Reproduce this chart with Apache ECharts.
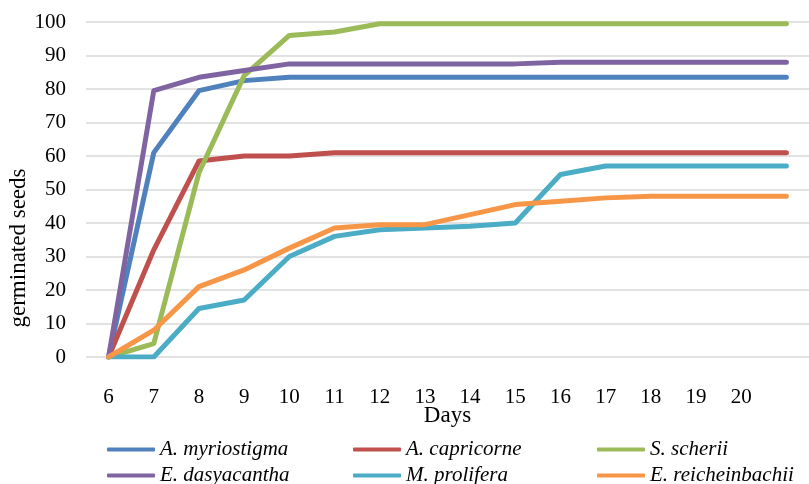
<!DOCTYPE html>
<html>
<head>
<meta charset="utf-8">
<script src="https://cdn.jsdelivr.net/npm/echarts@6/dist/echarts.min.js"></script>
<style>
  html, body { margin: 0; padding: 0; background: #fff; }
  #chart { width: 809px; height: 484px; }
</style>
</head>
<body>
<div id="chart"></div>
<script>
// Days after sowing (the final day carries no label)
const days = ['6', '7', '8', '9', '10', '11', '12', '13', '14', '15', '16', '17', '18', '19', '20', ''];

// Germinated seeds per species
const myriostigma    = [0, 61, 79.5, 82.5, 83.5, 83.5, 83.5, 83.5, 83.5, 83.5, 83.5, 83.5, 83.5, 83.5, 83.5, 83.5];
const capricorne     = [0, 32, 58.5, 60, 60, 61, 61, 61, 61, 61, 61, 61, 61, 61, 61, 61];
const scherii        = [0, 4, 55, 84, 96, 97, 99.5, 99.5, 99.5, 99.5, 99.5, 99.5, 99.5, 99.5, 99.5, 99.5];
const dasyacantha    = [0, 79.5, 83.5, 85.5, 87.5, 87.5, 87.5, 87.5, 87.5, 87.5, 88, 88, 88, 88, 88, 88];
const prolifera      = [0, 0, 14.5, 17, 30, 36, 38, 38.5, 39, 40, 54.5, 57, 57, 57, 57, 57];
const reicheinbachii = [0, 8, 21, 26, 32.5, 38.5, 39.5, 39.5, 42.5, 45.5, 46.5, 47.5, 48, 48, 48, 48];

const seriesNames = ['A. myriostigma', 'A. capricorne', 'S. scherii', 'E. dasyacantha', 'M. prolifera', 'E. reicheinbachii'];
const seriesData = [myriostigma, capricorne, scherii, dasyacantha, prolifera, reicheinbachii];
const seriesColors = ['#4F81BD', '#C0504D', '#9BBB59', '#8064A2', '#4BACC6', '#F79646'];

const FONT = 'Liberation Serif';

// Legend laid out as a 3-column grid, one component per entry
const legendCols = [107, 353, 597];
const legendRows = [439, 465];
const legends = seriesNames.map((name, i) => ({
  data: [name],
  left: legendCols[i % 3],
  top: legendRows[Math.floor(i / 3)],
  padding: 0,
  itemWidth: 48,
  itemHeight: 4,
  icon: 'roundRect',
  textStyle: { fontFamily: FONT, fontSize: 21, fontStyle: 'italic', color: '#000' }
}));

const chart = echarts.init(document.getElementById('chart'), null, { renderer: 'canvas' });
chart.setOption({
  animation: false,
  color: seriesColors,
  grid: { left: 86, top: 22, width: 733, bottom: 127, containLabel: false },
  xAxis: {
    type: 'category',
    data: days,
    boundaryGap: true,
    name: 'Days',
    nameLocation: 'middle',
    nameGap: 47,
    nameMoveOverlap: false,
    nameTextStyle: { fontFamily: FONT, fontSize: 23, color: '#000' },
    axisLine: { show: false },
    axisTick: { show: false },
    axisLabel: { fontFamily: FONT, fontSize: 21, color: '#000', margin: 30, interval: 0 }
  },
  yAxis: {
    type: 'value',
    min: 0,
    max: 100,
    interval: 10,
    axisLine: { show: false },
    axisTick: { show: false },
    axisLabel: { fontFamily: FONT, fontSize: 21, color: '#000', margin: 20 },
    splitLine: { lineStyle: { color: '#D9D9D9', width: 1.5 } }
  },
  legend: legends,
  graphic: [{
    type: 'text',
    x: 19,
    y: 248,
    rotation: Math.PI / 2,
    style: {
      text: 'germinated seeds',
      fontFamily: FONT,
      fontSize: 23,
      fill: '#000',
      align: 'center',
      verticalAlign: 'middle'
    }
  }],
  series: seriesNames.map((name, i) => ({
    name: name,
    type: 'line',
    data: seriesData[i],
    showSymbol: false,
    symbol: 'none',
    lineStyle: { width: 5, color: seriesColors[i], cap: 'round', join: 'round' },
    itemStyle: { color: seriesColors[i] }
  }))
});
</script>
</body>
</html>
